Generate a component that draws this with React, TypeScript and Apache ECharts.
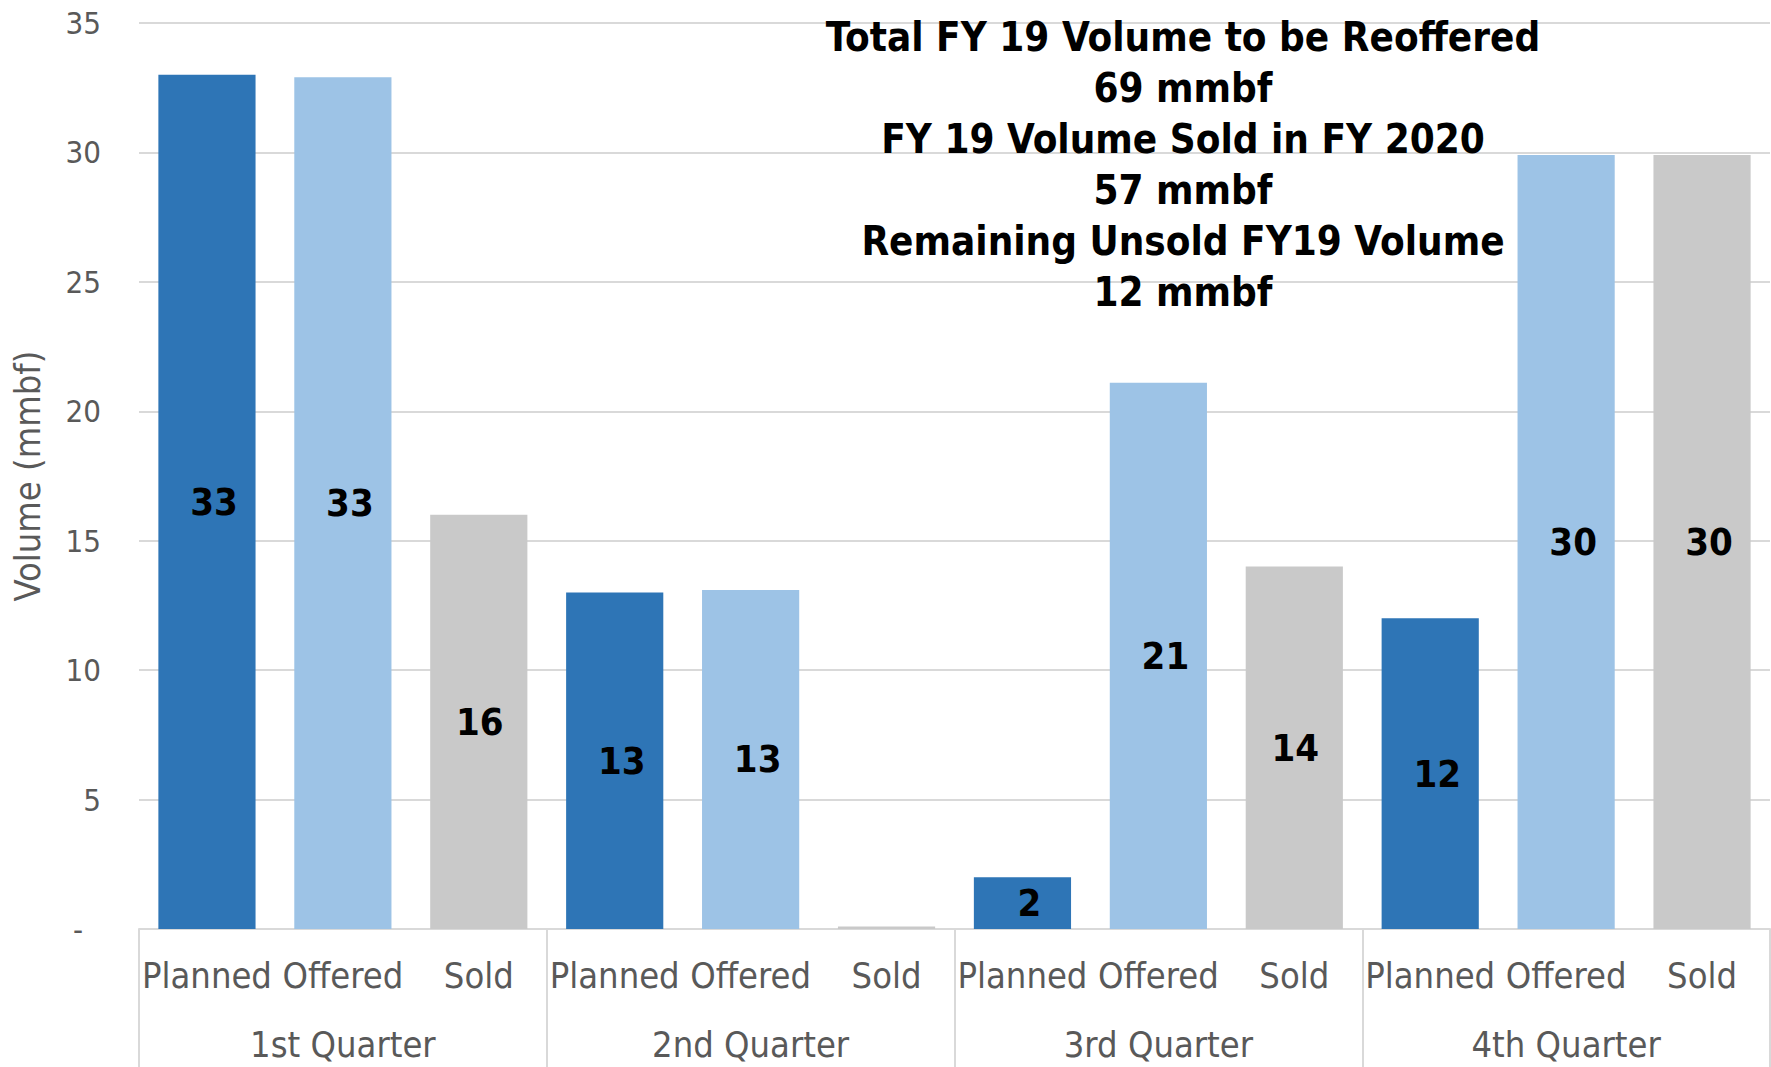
import React, { useEffect, useRef } from "react";
import * as echarts from "echarts";

const quarters = ["1st Quarter", "2nd Quarter", "3rd Quarter", "4th Quarter"];
const types = ["Planned", "Offered", "Sold"];
const planned = [33, 13, 2, 12];
const offered = [32.9, 13.1, 21.1, 29.9];
const sold = [16, 0.1, 14, 29.9];
const typeColors = ["#2E75B6", "#9DC3E6", "#C9C9C9"];
const yMin = 0;
const yMax = 35;
const yStep = 5;
const yAxisTitle = "Volume (mmbf)";
const noteLines = [
  "Total FY 19 Volume to be Reoffered",
  "69 mmbf",
  "FY 19 Volume Sold in FY 2020",
  "57 mmbf",
  "Remaining Unsold FY19 Volume",
  "12 mmbf",
];

const FONT = "'DejaVu Sans Condensed', 'DejaVu Sans', sans-serif";

export default function App() {
  const ref = useRef<HTMLDivElement>(null);
  useEffect(() => {
    if (!ref.current) return;
    const chart = echarts.init(ref.current, null, { renderer: "svg" });
    const seriesByType = [planned, offered, sold];
    const cats: string[] = [];
    const data: any[] = [];
    quarters.forEach((q, qi) => {
      types.forEach((t, ti) => {
        cats.push(q + "|" + t);
        const centered = ti === 2 && (qi === 0 || qi === 2);
        data.push({
          value: seriesByType[ti][qi],
          itemStyle: { color: typeColors[ti] },
          label: { offset: centered ? [1, 0] : [7, 0] },
        });
      });
    });
    chart.setOption({
      animation: false,
      grid: { left: 139, right: 1, top: 23, bottom: 138, containLabel: false },
      xAxis: [
        {
          type: "category",
          data: cats,
          position: "bottom",
          axisLine: { show: true, lineStyle: { color: "#D9D9D9", width: 2 } },
          axisTick: { show: false },
          axisLabel: {
            interval: 0,
            margin: 28,
            color: "#595959",
            fontSize: 36,
            fontFamily: FONT,
            formatter: (v: string) => v.split("|")[1],
          },
        },
        {
          type: "category",
          data: quarters,
          position: "bottom",
          offset: 0,
          axisLine: { show: false },
          axisTick: { show: true, length: 138, lineStyle: { color: "#D9D9D9", width: 2 } },
          axisLabel: {
            interval: 0,
            margin: 97,
            color: "#595959",
            fontSize: 36,
            fontFamily: FONT,
          },
        },
      ],
      yAxis: {
        type: "value",
        min: yMin,
        max: yMax,
        interval: yStep,
        name: yAxisTitle,
        nameLocation: "middle",
        nameGap: 94,
        nameTextStyle: { color: "#595959", fontSize: 36, fontFamily: FONT },
        axisLine: { show: false },
        axisTick: { show: false },
        splitLine: { lineStyle: { color: "#D9D9D9", width: 2 } },
        axisLabel: {
          margin: 38,
          color: "#595959",
          fontSize: 31,
          fontFamily: FONT,
          formatter: (v: number) => (v === 0 ? "{z|-}" : String(v)),
          rich: { z: { color: "#595959", fontSize: 31, fontFamily: FONT, padding: [0, 18, 0, 0] } },
        },
      },
      series: [
        {
          type: "bar",
          data,
          barCategoryGap: "28.5%",
          label: {
            show: true,
            position: "inside",
            color: "#000",
            fontSize: 38,
            fontWeight: "bold",
            fontFamily: FONT,
            formatter: (p: any) => (Math.round(p.value) >= 1 ? String(Math.round(p.value)) : ""),
          },
        },
      ],
      graphic: [
        {
          type: "text",
          x: 1183,
          y: 11,
          z: 100,
          style: {
            text: noteLines.join("\n"),
            align: "center",
            verticalAlign: "top",
            fill: "#000",
            fontSize: 40,
            fontWeight: "bold",
            fontFamily: FONT,
            lineHeight: 51,
          },
        },
      ],
    });
    return () => chart.dispose();
  }, []);
  return (
    <div
      ref={ref}
      style={{ position: "fixed", left: 0, top: 0, width: 1771, height: 1067, background: "#fff" }}
    />
  );
}
